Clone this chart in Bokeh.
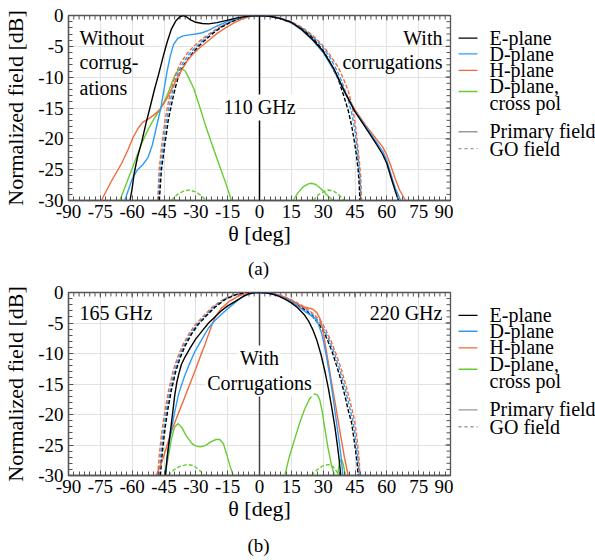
import numpy as np
from bokeh.plotting import figure
from bokeh.models import (Range1d, SingleIntervalTicker, Span, Label, PrintfTickFormatter)
from bokeh.layouts import column, row
from bokeh.core.properties import value
from bokeh.embed import file_html
from bokeh.resources import INLINE

nan = float("nan")

# ---------------- (a) 110 GHz ----------------
a_E_th = [-61, -60, -59, -57.5, -55.5, -53.5, -51.5, -49.5, -47.5, -45.5, -43.5, -41.5, -39.5, -37.5, -36, -34.5, -32.5, -30, -27, -24, -20, -15, -10, -5, 0, 5, 10, 15, 20, 25, 30, 35, 40, 45, 50, 55, 58, 60, 62, 64, 65.5]
a_E_db = [-30, -28, -25.5, -23, -20.5, -17.5, -14.8, -12, -9.5, -6.8, -4.3, -2.2, -0.9, -0.2, 0, -0.2, -0.7, -1.1, -1.3, -1.35, -1.15, -0.75, -0.35, -0.1, 0, -0.12, -0.5, -1.1, -2.3, -3.9, -5.8, -8.6, -12.3, -15.6, -18.2, -20.8, -22.5, -24, -26.3, -28.5, -30]
a_D_th = [-63.5, -62, -60, -57.5, -55, -52.5, -50.5, -48.5, -46.5, -45, -43.5, -42, -40.5, -38.5, -36, -33, -30, -27, -24, -20, -15, -10, -5, 0, 5, 10, 15, 20, 25, 30, 35, 40, 45, 50, 55, 58, 60, 62, 64, 66.5]
a_D_db = [-30, -28.5, -26.5, -25, -24.2, -23, -21, -18, -15, -12, -9, -6.5, -4.7, -3.7, -3.3, -3.15, -3.0, -2.8, -2.4, -1.7, -0.95, -0.4, -0.1, 0, -0.12, -0.5, -1.15, -2.4, -4.0, -6.0, -8.8, -12.3, -15.5, -18, -20.5, -22, -23.5, -25.8, -28, -30]
a_H_th = [-74.5, -70, -65, -62, -59.5, -57, -55, -52.5, -50, -47, -44, -41.5, -39, -36.8, -34, -31, -28, -24, -20, -16, -12, -8, -4, 0, 5, 10, 15, 20, 25, 30, 35, 40, 45, 50, 55, 58, 60, 62, 64, 66, 68.8]
a_H_db = [-30, -27, -24, -21.8, -19.7, -18.2, -17.3, -16.8, -16.2, -15.3, -13.7, -12, -10.3, -8.9, -7.3, -6.1, -5.2, -4.05, -2.9, -2.0, -1.2, -0.55, -0.15, 0, -0.12, -0.5, -1.1, -2.3, -3.9, -5.9, -8.7, -12.2, -15.3, -17.8, -20, -21.3, -22.6, -24.5, -26.5, -28.3, -30]
a_X_th = [-65.8, -63, -60.3, -58, -55.6, -52.5, -49.3, -46.5, -44.6, -43, -41.5, -40, -38.3, -36.8, -35, -33.5, -31, -28, -25, -22, -19, -16, -13.2, nan, 15.9, 18, 20.5, 23, 24.5, 26.5, 29, 32, 34.7]
a_X_db = [-30, -27.5, -25.1, -23, -20.8, -18.5, -16.5, -15, -13.8, -12.5, -11.1, -9.8, -8.9, -8.6, -9, -10, -11.8, -15, -18.3, -21.3, -24.2, -27.1, -30, nan, -30, -28.8, -27.8, -27.3, -27.2, -27.4, -28.1, -29.2, -30]
a_GOE_th = [-47.2, -46.8, -46.2, -45.4, -44.6, -43.8, -43, -41.8, -40.7, -39.5, -38.3, -36.8, -35.2, -32, -29, -26, -22, -18, -14, -10, -5, 0, 5, 10, 15, 20, 25, 30, 33, 35, 37.1, 39.5, 41.8, 43.5, 44.9, 45.8, 46.5, 47, 47.3]
a_GOE_db = [-30, -28, -25, -23, -20.8, -19, -17, -15, -13.2, -11.5, -10, -8.8, -7.8, -6.3, -5.1, -4.1, -2.9, -1.9, -1.15, -0.55, -0.14, 0, -0.14, -0.55, -1.2, -2.2, -3.6, -5.7, -7.4, -8.9, -10.3, -12.8, -15.4, -18, -20.8, -23, -25.1, -27.5, -30]
a_GOD_th = [-47.6, -47.3, -46.8, -46.1, -45.3, -44.6, -43.8, -42.7, -41.6, -40.4, -39.2, -37.7, -36.1, -33, -30, -26.5, -22.5, -18.5, -14.5, -10, -5, 0, 5, 10, 15, 20, 25, 29.5, 33, 36.5, 39, 41.5, 43.5, 44.9, 45.8, 46.6, 47.1, 47.5, 47.7]
a_GOD_db = [-30, -28, -25, -23, -20.8, -19, -17, -15, -13.2, -11.5, -10, -8.8, -7.7, -6.2, -5.1, -3.95, -2.85, -1.9, -1.2, -0.55, -0.14, 0, -0.13, -0.5, -1.1, -2.05, -3.4, -5.0, -6.7, -8.9, -10.9, -13.3, -15.9, -18.5, -21, -23.5, -25.5, -27.3, -30]
a_GOH_th = [-48, -47.7, -47.3, -46.7, -46, -45.3, -44.5, -43.5, -42.4, -41.2, -40, -38.6, -37, -34, -31, -27, -23, -19, -15, -10, -5, 0, 5, 10, 15, 20, 25, 29.2, 33, 37.1, 39.5, 41.8, 43.5, 44.9, 45.8, 46.5, 47.2, 47.7, 48.1]
a_GOH_db = [-30, -28, -25, -23, -20.8, -19, -17, -15, -13.2, -11.5, -10, -8.8, -7.6, -6.1, -5.0, -3.8, -2.8, -1.9, -1.2, -0.55, -0.14, 0, -0.12, -0.45, -1.0, -1.9, -3.2, -4.6, -6.3, -8.4, -10.2, -12.2, -14.5, -17, -19.5, -21.9, -24.2, -26.2, -30]
a_XGO_th = [-41.5, -39, -36, -33, -30, -27.5, -25, nan, 25.3, 28, 30.5, 32.5, 35, 37.5, 40]
a_XGO_db = [-30, -29.1, -28.5, -28.3, -28.6, -29.2, -30, nan, -30, -29, -28.5, -28.3, -28.5, -29.1, -30]

# ---------------- (b) 165 / 220 GHz ----------------
b_E_th = [-44.3, -43.8, -43, -42, -41, -40, -39, -38, -36.8, -35, -32.5, -30, -27, -24, -21, -18, -15, -11.6, -8, -5, -2, 0, 3, 6, 9, 12, 15, 18, 21, 23, 25, 27, 29, 31, 32.5, 34, 35.5, 36.5, 37.5, 38.3]
b_E_db = [-30, -28, -25.5, -22.8, -20, -17, -14.8, -13.3, -11.8, -10.5, -9.0, -7.6, -6.3, -5.0, -4.0, -3.0, -2.2, -1.5, -0.7, -0.2, 0, 0, -0.05, -0.25, -0.6, -1.1, -1.7, -2.5, -3.6, -4.6, -6.0, -7.8, -10.2, -13.2, -15.8, -18.8, -22, -24.5, -27.3, -30]
b_D_th = [-44.3, -43.5, -42.5, -41, -39.9, -38, -35.2, -33, -30.5, -27, -24.2, -21, -18, -14.8, -11, -6.9, -3, 0, 3, 6, 9, 12, 15, 18, 21, 24, 26, 27.5, 29.2, 30.5, 31.8, 33.1, 34.5, 35.5, 36.5, 37.5, 38.5, 39.3]
b_D_db = [-30, -27, -24.5, -21.5, -19.5, -16.5, -13.6, -11.7, -9.7, -7.6, -5.9, -4.6, -3.6, -2.6, -1.5, -0.5, -0.05, 0, -0.05, -0.2, -0.5, -1.0, -1.5, -2.2, -3.0, -3.7, -4.2, -5.0, -6.6, -8.5, -11, -13.6, -16.8, -19.3, -21.8, -24.3, -27.1, -30]
b_H_th = [-48.7, -46, -43.5, -41, -39, -36.5, -33.6, -31, -28.1, -25.5, -22.6, -21, -18, -14, -10, -6, -2, 0, 3, 6, 9, 12, 15, 18, 20, 22.5, 25, 27, 28.5, 29.8, 30.8, 32, 33.9, 35.5, 37, 38.5, 40, 41.8]
b_H_db = [-30, -27.8, -25, -22.3, -20.5, -18.3, -15.7, -13.4, -10.7, -8.3, -5.5, -4.1, -2.6, -1.4, -0.6, -0.15, 0, 0, -0.03, -0.15, -0.4, -0.8, -1.3, -1.9, -2.3, -2.5, -2.7, -3.3, -4.3, -6.0, -8.1, -10.6, -14.6, -17.8, -20.9, -24, -27, -30]
b_X_th = [-44.6, -43, -41.5, -40, -38.3, -36.5, -34.5, -32, -30.5, -28, -25.5, -23, -20.5, -18.7, -17, -15.5, -14, -12.4, nan, 11.9, 14, 16.6, 19, 21.3, 23.5, 25, 26.1, 27.3, 28.4, 29.6, 30.8, 32.3, 33.9, 35.3, nan, 36.8, 37.6, 38.6, 39.5, 40.5]
b_X_db = [-30, -27, -24, -22, -21.5, -22.2, -23.5, -24.7, -25.1, -25.3, -25.1, -24.5, -24.1, -24.1, -24.8, -26.5, -28.3, -30, nan, -30, -27, -24, -21.3, -19.1, -17.5, -16.8, -16.6, -16.8, -17.6, -19.6, -22.3, -25.5, -28.3, -30, nan, -30, -28, -27.3, -28.2, -30]
b_GOE_th = [-46.7, -46, -45.2, -44.2, -43, -41.5, -39.5, -37.5, -35, -32, -29, -25, -21, -16, -11, -6, 0, 5, 10, 15, 20, 25, 28, 30.5, 32.4, 34.5, 36.5, 38.6, 40.5, 42, 43.3, 44.3, 45.3, 46, 46.5]
b_GOE_db = [-30, -27, -24.3, -21.5, -18.8, -16, -13, -10.8, -8.7, -6.8, -5.3, -3.8, -2.4, -1.1, -0.35, -0.05, 0, -0.15, -0.6, -1.4, -2.5, -3.9, -5.2, -6.6, -8.1, -10, -12.2, -14.6, -17.3, -19.6, -21.2, -23.5, -26, -28, -30]
b_GOD_th = [-47.3, -46.6, -45.8, -44.8, -43.6, -42.1, -40.1, -38.1, -35.6, -32.6, -29.6, -25.6, -21.6, -16.5, -11.5, -6.2, 0, 5, 10, 15, 20, 25, 28.6, 31, 33.2, 35.3, 37.4, 39.4, 41.3, 42.8, 44.1, 45.1, 46, 46.6, 47]
b_GOD_db = [-30, -27, -24.3, -21.5, -18.8, -16, -13, -10.8, -8.7, -6.8, -5.3, -3.8, -2.4, -1.1, -0.35, -0.05, 0, -0.13, -0.55, -1.3, -2.3, -3.65, -5.0, -6.45, -8.1, -10, -12.2, -14.6, -17.1, -19.3, -21.2, -23.5, -26, -28, -30]
b_GOH_th = [-48, -47.3, -46.5, -45.5, -44.3, -42.8, -40.8, -38.8, -36.3, -33.3, -30.3, -26.3, -22.3, -17, -12, -6.5, 0, 5, 10, 15, 20, 25, 29.2, 31.5, 33.9, 36, 38.2, 40.2, 42, 43.5, 44.9, 45.8, 46.6, 47.1, 47.3]
b_GOH_db = [-30, -27, -24.3, -21.5, -18.8, -16, -13, -10.8, -8.7, -6.8, -5.3, -3.8, -2.4, -1.1, -0.35, -0.05, 0, -0.12, -0.5, -1.2, -2.1, -3.4, -4.8, -6.3, -8.1, -10, -12.2, -14.6, -16.9, -19, -21.2, -23.5, -26, -28, -30]
b_XGO_th = [-43, -40.5, -37.5, -34, -31, -28.5, -25.8, nan, 24.5, 27, 30, 32.5, 34.5, 36.5, 37.5]
b_XGO_db = [-30, -29.1, -28.5, -28.2, -28.4, -29.1, -30, nan, -30, -29.1, -28.4, -28.2, -28.5, -29.4, -30]

x_ticks_interval = 15
y_ticks_interval = 5
legend_labels = ["E-plane", "D-plane", "H-plane", "D-plane,", "cross pol", "Primary field", "GO field"]

FONT = "Liberation Serif"
C_E, C_D, C_H, C_X, C_G = "#000000", "#2f9cf5", "#f2693b", "#66cc33", "#9a9a9a"
FRAME = "#555555"
FW = 382          # frame width (px)
LEFT = 67
RIGHT = 3
BOTTOM = 53
TOTAL_W = 595
LEG_W = TOTAL_W - (LEFT + FW + RIGHT)


def make_main(data, top, fh, texts, vcol):
    E, D, H, X, GE, GD, GH, GX = data
    p = figure(frame_width=FW, frame_height=fh,
               min_border_left=LEFT, min_border_right=RIGHT,
               min_border_top=top, min_border_bottom=BOTTOM,
               x_range=Range1d(-90, 90), y_range=Range1d(-30, 0),
               output_backend="svg", toolbar_location=None)
    p.outline_line_color = FRAME
    p.outline_line_width = 1.3
    p.border_fill_color = "white"

    xt = SingleIntervalTicker(interval=x_ticks_interval, num_minor_ticks=6)
    yt = SingleIntervalTicker(interval=y_ticks_interval, num_minor_ticks=5)
    p.xaxis.ticker = xt
    p.yaxis.ticker = yt
    p.xgrid.ticker = xt
    p.ygrid.ticker = yt
    for g in (p.xgrid, p.ygrid):
        g.grid_line_color = "#e2e2e2"
        g.grid_line_width = 1

    for ax in (p.xaxis[0], p.yaxis[0]):
        ax.formatter = PrintfTickFormatter(format="%d")
        ax.major_label_text_font = FONT
        ax.major_label_text_font_size = "19px"
        ax.major_label_text_color = "black"
        ax.axis_line_color = FRAME
        ax.axis_line_width = 1.3
        ax.major_tick_in = 5
        ax.major_tick_out = 0
        ax.minor_tick_in = 4
        ax.minor_tick_out = 0
        ax.major_tick_line_color = FRAME
        ax.minor_tick_line_color = FRAME
        ax.axis_label_text_font = FONT
        ax.axis_label_text_font_size = "22px"
        ax.axis_label_text_font_style = "normal"
        ax.axis_label_text_color = "black"
    p.xaxis.major_label_standoff = 4
    p.yaxis.major_label_standoff = 5
    p.yaxis.axis_label = "Normalized field [dB]"
    p.yaxis.axis_label_standoff = 7
    p.xaxis.axis_label = "θ [deg]"
    p.xaxis.axis_label_standoff = 0

    # inward ticks on the top and right edges of the frame
    xmaj = np.arange(-90, 90.1, x_ticks_interval)
    xmin = np.arange(-90, 90.1, 2.5)
    ymaj = np.arange(-30, 0.1, y_ticks_interval)
    ymin = np.arange(-30, 0.1, 1.0)
    dy5, dy4 = 5 * 30.0 / fh, 4 * 30.0 / fh
    dx5, dx4 = 5 * 180.0 / FW, 4 * 180.0 / FW
    p.segment(x0=xmin, y0=np.zeros_like(xmin), x1=xmin, y1=-dy4 * np.ones_like(xmin),
              line_color=FRAME, line_width=1)
    p.segment(x0=xmaj, y0=np.zeros_like(xmaj), x1=xmaj, y1=-dy5 * np.ones_like(xmaj),
              line_color=FRAME, line_width=1)
    p.segment(x0=90 * np.ones_like(ymin), y0=ymin, x1=(90 - dx4) * np.ones_like(ymin), y1=ymin,
              line_color=FRAME, line_width=1)
    p.segment(x0=90 * np.ones_like(ymaj), y0=ymaj, x1=(90 - dx5) * np.ones_like(ymaj), y1=ymaj,
              line_color=FRAME, line_width=1)

    p.add_layout(Span(location=0, dimension="height", line_color=vcol, line_width=1.5))

    dash = "4 2"
    lw = 1.4
    p.line(GX[0], GX[1], line_color=C_X, line_width=lw, line_dash=dash)
    p.line(X[0], X[1], line_color=C_X, line_width=lw)
    p.line(GH[0], GH[1], line_color=C_H, line_width=lw, line_dash=dash)
    p.line(GD[0], GD[1], line_color=C_D, line_width=lw, line_dash=dash)
    p.line(GE[0], GE[1], line_color=C_E, line_width=lw, line_dash=dash)
    p.line(H[0], H[1], line_color=C_H, line_width=lw)
    p.line(D[0], D[1], line_color=C_D, line_width=lw)
    p.line(E[0], E[1], line_color=C_E, line_width=lw)

    for (x, y, txt, align, bg) in texts:
        p.add_layout(Label(x=x, y=y, text=txt, text_align=align,
                           text_baseline="middle", text_font=FONT,
                           text_font_size="20px", text_color="black",
                           background_fill_color="white" if bg else None,
                           border_line_color=None, padding=2 if bg else 0))
    return p


def canvas(w, h):
    c = figure(width=w, height=h, x_range=Range1d(0, w), y_range=Range1d(h, 0),
               min_border=0, output_backend="svg", toolbar_location=None)
    c.axis.visible = False
    c.grid.visible = False
    c.outline_line_color = None
    return c


def make_legend(h):
    c = canvas(LEG_W, h)
    # sample lines (screen positions inside this small canvas)
    c.line([5, 24], [31, 31], line_color=C_E, line_width=1.4)
    c.line([5, 24], [52.5, 52.5], line_color=C_D, line_width=1.4)
    c.line([5, 24], [75, 75], line_color=C_H, line_width=1.4)
    c.line([5, 24], [104, 104], line_color=C_X, line_width=1.4)
    c.line([5, 24], [159, 159], line_color=C_G, line_width=1.4)
    c.line([5, 24], [182, 182], line_color=C_G, line_width=1.4, line_dash="3 3")
    c.text(x=[36] * 7, y=[30.5, 52.5, 74.5, 97, 120, 158.5, 182], text=legend_labels,
           text_font=value(FONT), text_font_size=value("20px"),
           text_baseline="middle", text_align="left", text_color="black")
    return c


def make_caption(txt, h, yc):
    c = canvas(TOTAL_W, h)
    c.text(x=[LEFT + FW / 2], y=[yc], text=[txt], text_font=value(FONT),
           text_font_size=value("19px"), text_baseline="middle", text_align="center",
           text_color="black")
    return c


texts_a = [(-84.8, -3.57, "Without", "left", False),
           (-84.8, -7.6, "corrug-", "left", False),
           (-84.8, -11.7, "ations", "left", False),
           (86.2, -3.57, "With", "right", False),
           (86.2, -7.6, "corrugations", "right", False),
           (0, -14.9, "110 GHz", "center", True)]
texts_b = [(-84.8, -3.44, "165 GHz", "left", False),
           (86.2, -3.44, "220 GHz", "right", False),
           (0, -10.8, "With", "center", True),
           (0, -14.9, "Corrugations", "center", True)]

TOP_A, FH_A = 15, 185
TOP_B, FH_B = 12, 183

pa = make_main(((a_E_th, a_E_db), (a_D_th, a_D_db), (a_H_th, a_H_db), (a_X_th, a_X_db),
                (a_GOE_th, a_GOE_db), (a_GOD_th, a_GOD_db), (a_GOH_th, a_GOH_db), (a_XGO_th, a_XGO_db)),
               TOP_A, FH_A, texts_a, "#000000")
pb = make_main(((b_E_th, b_E_db), (b_D_th, b_D_db), (b_H_th, b_H_db), (b_X_th, b_X_db),
                (b_GOE_th, b_GOE_db), (b_GOD_th, b_GOD_db), (b_GOH_th, b_GOH_db), (b_XGO_th, b_XGO_db)),
               TOP_B, FH_B, texts_b, "#444444")

la = make_legend(TOP_A + FH_A + BOTTOM)
lb = make_legend(TOP_B + FH_B + BOTTOM)
ca = make_caption("(a)", 27, 15)
cb = make_caption("(b)", 32, 17)

layout = column(row(pa, la, spacing=0), ca, row(pb, lb, spacing=0), cb, spacing=0)
open("out.html", "w").write(file_html(layout, INLINE))
